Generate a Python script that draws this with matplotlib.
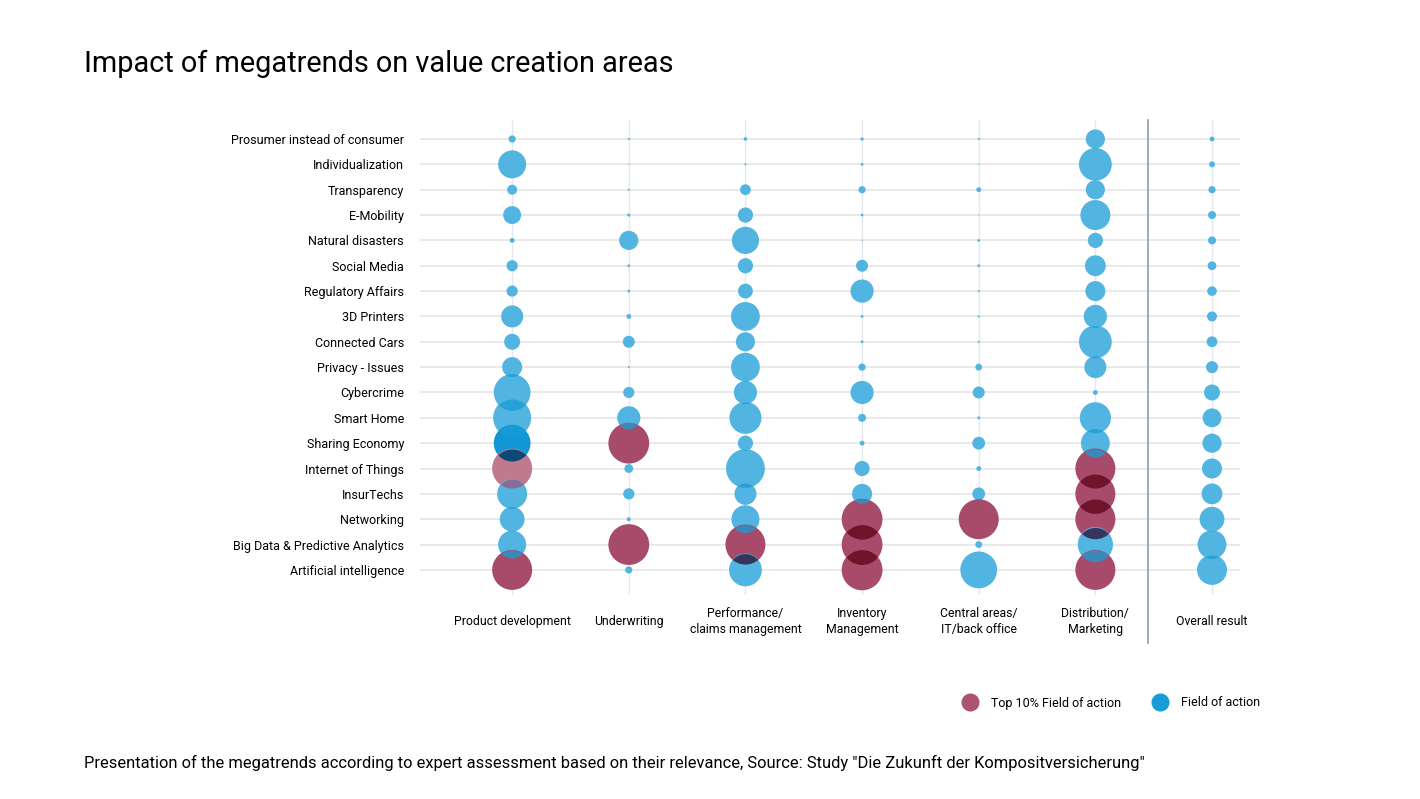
import matplotlib
matplotlib.use("Agg")
import matplotlib.pyplot as plt
from matplotlib.colors import to_rgb
from matplotlib.lines import Line2D
from matplotlib.patches import Circle
from matplotlib.transforms import ScaledTranslation

plt.rcParams["font.family"] = ["Roboto", "DejaVu Sans"]

# ---- data -------------------------------------------------------------
trends = ["Prosumer instead of consumer", "Individualization", "Transparency",
          "E-Mobility", "Natural disasters", "Social Media", "Regulatory Affairs",
          "3D Printers", "Connected Cars", "Privacy - Issues", "Cybercrime",
          "Smart Home", "Sharing Economy", "Internet of Things", "InsurTechs",
          "Networking", "Big Data & Predictive Analytics", "Artificial intelligence"]

areas = ["Product development", "Underwriting", "Performance/\nclaims management",
         "Inventory\nManagement", "Central areas/\nIT/back office",
         "Distribution/\nMarketing", "Overall result"]

# relevance per megatrend (top to bottom), one list per value creation area
product_dev = [18, 70, 25, 45, 12, 28, 28, 55, 40, 50, 92, 95, 92, 100, 75, 62, 70, 100]
underwriting = [5, 3, 5, 8, 48, 7, 7, 12, 30, 5, 28, 58, 102, 22, 28, 10, 102, 18]
performance = [9, 5, 27, 38, 68, 38, 37, 72, 48, 72, 58, 80, 38, 97, 55, 70, 100, 82]
inventory = [8, 7, 18, 7, 3, 30, 58, 7, 7, 18, 58, 20, 12, 38, 50, 102, 102, 102]
central = [5, 3, 12, 3, 7, 7, 5, 5, 5, 17, 30, 7, 32, 12, 32, 100, 17, 92]
distribution = [48, 82, 48, 75, 38, 52, 50, 58, 82, 55, 12, 78, 72, 100, 100, 100, 88, 100]
overall = [12, 15, 18, 20, 20, 22, 24, 25, 27, 30, 40, 47, 48, 50, 52, 62, 72, 75]

# b = field of action, r = top 10% field of action (B / p: emphasised variants)
kinds = ["bbbbbbbbbbbbBpbbbr",
         "bbbbbbbbbbbbrbbbrb",
         "bbbbbbbbbbbbbbbbrb",
         "bbbbbbbbbbbbbbbrrr",
         "bbbbbbbbbbbbbbbrbb",
         "bbbbbbbbbbbbbrrrbr",
         "bbbbbbbbbbbbbbbbbb"]

values = [product_dev, underwriting, performance, inventory, central,
          distribution, overall]

# ---- style ------------------------------------------------------------
DPI = 100
BLUE = "#179cd6"
RED = "#a84a69"
rendered = {"b": "#52b4e1", "B": "#1396d5", "r": RED, "p": "#c07a8f"}
PX_PER_UNIT = 0.4  # bubble diameter in px per relevance point


def size_pts(v):
    d_pt = v * PX_PER_UNIT * 72 / DPI
    return d_pt ** 2


def overlap_color(up, low):
    cu, cl = to_rgb(rendered[up]), to_rgb(rendered[low])
    if up in "rB":
        return tuple(a * b for a, b in zip(cu, cl))
    if up == "b":
        base = to_rgb(BLUE)
        return tuple(0.75 * a + 0.25 * b for a, b in zip(base, cl))
    return "#8a6b98"


fig = plt.figure(figsize=(14.2, 7.99), dpi=DPI)
ax = fig.add_axes([420 / 1420, 1 - 595 / 799, 820 / 1420, 475 / 799])
ax.set_xlim(-0.79, 6.24)
ax.set_ylim(17.99, -0.75)

rows = list(range(len(trends)))
cols = list(range(len(areas)))

for r in rows:
    ax.axhline(r, color="#e3e3e3", lw=1.1, zorder=0)
for c in cols:
    ax.axvline(c, color="#e4e8ee", lw=1.0, zorder=0)


def circle_clip(x, y, d_px):
    trans = fig.dpi_scale_trans + ScaledTranslation(x, y, ax.transData)
    return Circle((0, 0), d_px / 2 / DPI, transform=trans)


for c in cols:
    vals, ks = values[c], kinds[c]
    ax.scatter([c] * len(rows), rows, s=[size_pts(v) for v in vals],
               color=[rendered[k] for k in ks], linewidths=0, zorder=2)
    # darker regions where neighbouring bubbles overlap
    for r in rows[:-1]:
        d_up, d_low = vals[r] * PX_PER_UNIT, vals[r + 1] * PX_PER_UNIT
        y0 = ax.transData.transform((c, r))[1]
        y1 = ax.transData.transform((c, r + 1))[1]
        if (d_up + d_low) / 2 <= abs(y0 - y1):
            continue
        ov = ax.scatter([c], [r + 1], s=size_pts(vals[r + 1]),
                        color=[overlap_color(ks[r], ks[r + 1])],
                        linewidths=0, zorder=3)
        ov.set_clip_path(circle_clip(c, r, d_up))

# separator before overall result
ax.plot([5.45, 5.45], [-0.75, 19.88], color="#8b9ea8", lw=1.2,
        clip_on=False, zorder=1)

ax.set_yticks(rows)
ax.set_yticklabels(trends, fontsize=9)
ax.set_xticks(cols)
ax.set_xticklabels(areas, fontsize=8.8, linespacing=1.3)
for t in ax.get_xticklabels():
    t.set_verticalalignment("center")
ax.tick_params(axis="y", length=0, pad=11.5)
ax.tick_params(axis="x", length=0, pad=19)
for s in ax.spines.values():
    s.set_visible(False)

fig.text(84 / 1420, 1 - 64 / 799, "Impact of megatrends on value creation areas",
         fontsize=20.8, va="center", ha="left")
fig.text(84 / 1420, 1 - 763 / 799,
         "Presentation of the megatrends according to expert assessment based on "
         "their relevance, Source: Study \"Die Zukunft der Kompositversicherung\"",
         fontsize=11.9, va="center", ha="left")

handles = [Line2D([], [], marker="o", ls="", markersize=13, color=RED,
                  markeredgewidth=0, alpha=0.95),
           Line2D([], [], marker="o", ls="", markersize=13, color=BLUE,
                  markeredgewidth=0)]
fig.legend(handles, ["Top 10% Field of action", "Field of action"], ncol=2,
           loc="center left", bbox_to_anchor=(955 / 1420, 1 - 703 / 799),
           frameon=False, fontsize=9, handlelength=1.0, handletextpad=1.2,
           columnspacing=2.6, borderpad=0.2)

fig.savefig("out.png", dpi=DPI)
